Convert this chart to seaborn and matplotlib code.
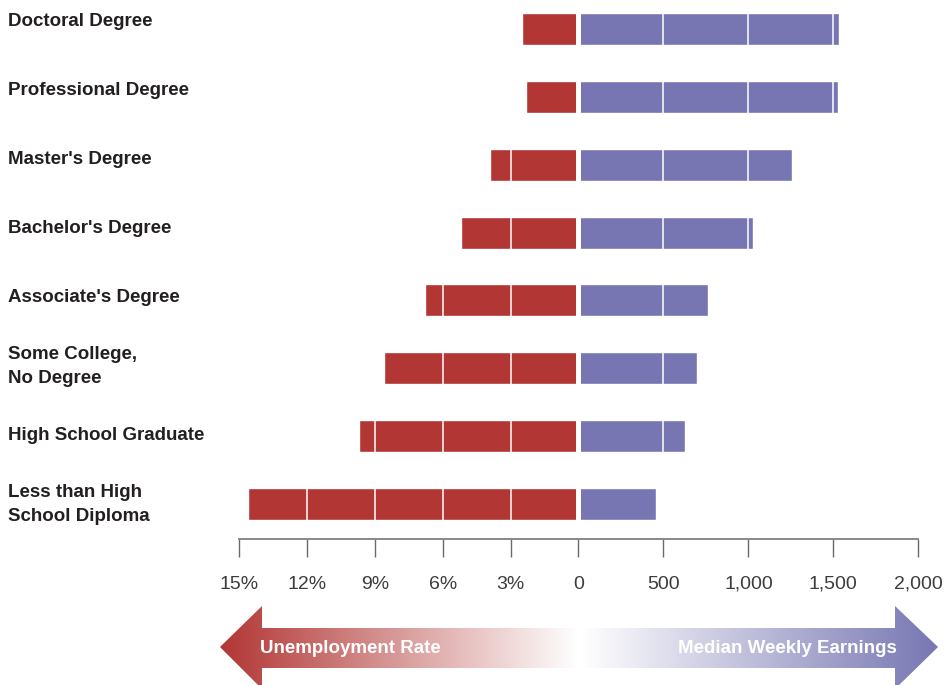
import numpy as np
import pandas as pd
import matplotlib
matplotlib.use("Agg")
import matplotlib.pyplot as plt
from matplotlib.patches import Polygon
from matplotlib.colors import to_rgb
import seaborn as sns

# Education level, unemployment rate (%) and median weekly earnings ($)
categories = [
    "Doctoral Degree",
    "Professional Degree",
    "Master's Degree",
    "Bachelor's Degree",
    "Associate's Degree",
    "Some College,\nNo Degree",
    "High School Graduate",
    "Less than High\nSchool Diploma",
]
unemployment_rate = [2.5, 2.3, 3.9, 5.2, 6.8, 8.6, 9.7, 14.6]
weekly_earnings = [1532, 1529, 1257, 1025, 761, 699, 626, 454]

rate_ticks = [15, 12, 9, 6, 3, 0]
rate_tick_labels = ["15%", "12%", "9%", "6%", "3%", "0"]
earn_ticks = [500, 1000, 1500, 2000]
earn_tick_labels = ["500", "1,000", "1,500", "2,000"]

RED = "#B13634"
PURPLE = "#7776B2"
TEXT = "#231F20"

df = pd.DataFrame({
    "category": categories,
    "rate": unemployment_rate,
    "earnings": weekly_earnings,
})

sns.set_theme(style="white")
plt.rcParams["font.family"] = ["Liberation Sans", "DejaVu Sans"]

W, H = 945, 685
fig = plt.figure(figsize=(W / 100, H / 100), dpi=100)

# layout in pixels
zero_px, left_px, right_px = 578.5, 239.3, 918.3
axis_px = 539.0
row_px = 67.86
first_row_px = 29.0

bottom = (H - axis_px) / H
height = axis_px / H
ax_l = fig.add_axes([left_px / W, bottom, (zero_px - left_px) / W, height])
ax_r = fig.add_axes([zero_px / W, bottom, (right_px - zero_px) / W, height])

sns.barplot(data=df, x="rate", y="category", orient="h", color=RED,
            width=0.47, saturation=1, errorbar=None, ax=ax_l)
sns.barplot(data=df, x="earnings", y="category", orient="h", color=PURPLE,
            width=0.47, saturation=1, errorbar=None, ax=ax_r)

y_top = -first_row_px / row_px
y_bot = y_top + axis_px / row_px

ax_l.set_xlim(15, 0)
ax_l.set_xticks(rate_ticks)
ax_l.set_xticklabels(rate_tick_labels)
ax_r.set_xlim(0, 2000)
ax_r.set_xticks(earn_ticks)
ax_r.set_xticklabels(earn_tick_labels)

for ax in (ax_l, ax_r):
    ax.set_ylim(y_bot, y_top)
    ax.set_yticks([])
    ax.set_xlabel("")
    ax.set_ylabel("")
    for s in ("top", "left", "right"):
        ax.spines[s].set_visible(False)
    ax.spines["bottom"].set_color("#808080")
    ax.spines["bottom"].set_linewidth(1.3)
    ax.tick_params(axis="x", bottom=True, direction="out", length=13,
                   width=1.0, color="#6a6a6a", pad=13.5, labelsize=14,
                   labelcolor="#3c3c3c")
    ax.set_facecolor("none")

# white grid lines across the bars
for v in rate_ticks[1:-1]:
    ax_l.axvline(v, color="white", lw=1.1, zorder=2)
for v in earn_ticks[:-1]:
    ax_r.axvline(v, color="white", lw=1.1, zorder=2)
# gap between the two halves at zero
ax_l.axvline(0, color="white", lw=3.6, zorder=2)
ax_r.axvline(0, color="white", lw=3.6, zorder=2)

# category labels on the left
for i, c in enumerate(categories):
    y = 21.5 + 69.0 * i
    fig.text(8 / W, 1 - y / H, c, ha="left", va="center", fontsize=13.5,
             fontweight="bold", color=TEXT, linespacing=1.6)

# gradient arrows along the bottom
ax_bg = fig.add_axes([0, 0, 1, 1], zorder=-1)
ax_bg.axis("off")


def gradient_arrow(ax, verts, x0, x1, c0, c1):
    poly = Polygon(verts, closed=True, facecolor="none", edgecolor="none")
    ax.add_patch(poly)
    t = np.linspace(0, 1, 512)[:, None]
    a, b = np.array(to_rgb(c0)), np.array(to_rgb(c1))
    img = a[None, :] * (1 - t) + b[None, :] * t
    im = ax.imshow(img[None, :, :], extent=(x0, x1, 692, 600),
                   aspect="auto", interpolation="bilinear")
    im.set_clip_path(poly)


left_arrow = [(220, 647), (262, 606), (262, 628), (578, 628),
              (578, 668), (262, 668), (262, 689)]
right_arrow = [(580, 628), (895, 628), (895, 606), (938, 647),
               (895, 689), (895, 668), (580, 668)]
gradient_arrow(ax_bg, left_arrow, 220, 578, RED, "white")
gradient_arrow(ax_bg, right_arrow, 582, 938, "white", PURPLE)
ax_bg.set_xlim(0, W)
ax_bg.set_ylim(H, 0)

ax_bg.text(260, 648.5, "Unemployment Rate", ha="left", va="center",
           fontsize=13.5, fontweight="bold", color="white")
ax_bg.text(897, 648.5, "Median Weekly Earnings", ha="right", va="center",
           fontsize=13.5, fontweight="bold", color="white")

fig.savefig("out.png", dpi=100)
